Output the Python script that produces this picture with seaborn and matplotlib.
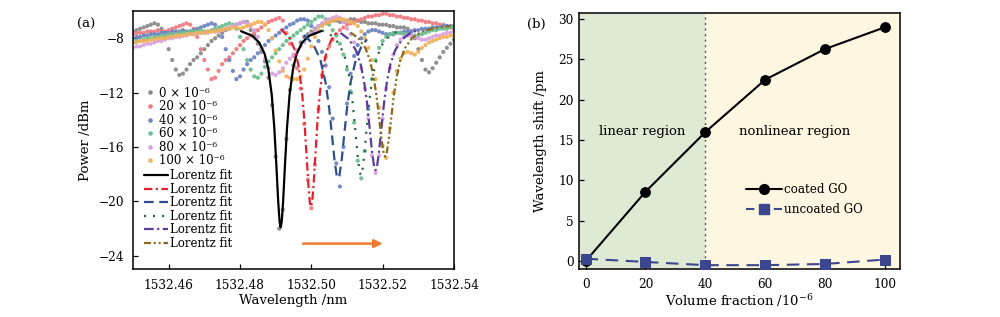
import numpy as np
import pandas as pd
import matplotlib
matplotlib.use("Agg")
import matplotlib.pyplot as plt
import seaborn as sns
from matplotlib.lines import Line2D

# ---------------- data: panel (a) ----------------
wavelength = [
    1532.450, 1532.451, 1532.452, 1532.453, 1532.454, 1532.455, 1532.456, 1532.457, 1532.458, 1532.459,
    1532.460, 1532.461, 1532.462, 1532.463, 1532.464, 1532.465, 1532.466, 1532.467, 1532.468, 1532.469,
    1532.470, 1532.471, 1532.472, 1532.473, 1532.474, 1532.475, 1532.476, 1532.477, 1532.478, 1532.479,
    1532.480, 1532.481, 1532.482, 1532.483, 1532.484, 1532.485, 1532.486, 1532.487, 1532.488, 1532.489,
    1532.490, 1532.491, 1532.492, 1532.493, 1532.494, 1532.495, 1532.496, 1532.497, 1532.498, 1532.499,
    1532.500, 1532.501, 1532.502, 1532.503, 1532.504, 1532.505, 1532.506, 1532.507, 1532.508, 1532.509,
    1532.510, 1532.511, 1532.512, 1532.513, 1532.514, 1532.515, 1532.516, 1532.517, 1532.518, 1532.519,
    1532.520, 1532.521, 1532.522, 1532.523, 1532.524, 1532.525, 1532.526, 1532.527, 1532.528, 1532.529,
    1532.530, 1532.531, 1532.532, 1532.533, 1532.534, 1532.535, 1532.536, 1532.537, 1532.538, 1532.539,
    1532.540]

power_0 = [
    -7.5, -7.4, -7.3, -7.2, -7.1, -7.0, -6.9, -7.0, -7.3, -7.9,
    -8.8, -9.6, -10.3, -10.7, -10.6, -10.3, -9.9, -9.6, -9.4, -9.1,
    -8.8, -8.5, -8.2, -8.0, -7.8, -7.6, -7.4, -7.3, -7.1, -7.0,
    -6.9, -6.8, -6.8, -7.4, -7.8, -8.4, -9.0, -9.7, -10.9, -12.9,
    -16.7, -22.0, -20.6, -15.4, -11.8, -10.0, -8.9, -8.3, -7.9, -7.7,
    -7.5, -7.3, -7.1, -7.0, -6.9, -6.8, -6.7, -6.7, -6.8, -6.8,
    -6.7, -6.6, -6.6, -6.7, -6.8, -6.8, -6.9, -6.9, -6.9, -7.0,
    -7.0, -7.0, -7.1, -7.1, -7.2, -7.2, -7.2, -7.3, -7.5, -8.0,
    -8.8, -9.6, -10.3, -10.5, -10.2, -9.8, -9.4, -9.0, -8.7, -8.4,
    -8.1]
power_20 = [
    -7.7, -7.6, -7.6, -7.6, -7.5, -7.5, -7.5, -7.4, -7.5, -7.5,
    -7.4, -7.3, -7.2, -7.1, -7.0, -6.9, -7.0, -7.3, -7.9, -8.8,
    -9.6, -10.3, -11.0, -10.9, -10.4, -9.9, -9.6, -9.4, -9.1, -8.8,
    -8.5, -8.2, -8.0, -7.8, -7.6, -7.4, -7.2, -7.0, -6.8, -6.7,
    -6.6, -6.5, -6.7, -7.6, -8.4, -9.3, -10.2, -11.7, -14.3, -18.4,
    -20.5, -17.3, -13.2, -10.7, -9.4, -8.6, -8.1, -7.7, -7.4, -7.2,
    -7.0, -6.9, -6.8, -6.7, -6.6, -6.5, -6.4, -6.4, -6.3, -6.3,
    -6.2, -6.2, -6.3, -6.3, -6.4, -6.4, -6.5, -6.5, -6.6, -6.6,
    -6.7, -6.7, -6.8, -6.8, -6.9, -6.9, -7.0, -7.0, -7.1, -7.2,
    -7.3]
power_40 = [
    -8.0, -7.9, -7.9, -7.8, -7.8, -7.7, -7.7, -7.7, -7.6, -7.6,
    -7.6, -7.5, -7.5, -7.5, -7.4, -7.5, -7.5, -7.4, -7.3, -7.2,
    -7.1, -7.0, -6.9, -7.0, -7.3, -7.9, -8.8, -9.6, -10.4, -11.0,
    -10.8, -10.3, -9.9, -9.6, -9.4, -9.1, -8.8, -8.5, -8.2, -8.0,
    -7.8, -7.6, -7.4, -7.2, -7.0, -6.9, -6.7, -6.6, -6.6, -6.7,
    -7.1, -7.6, -8.2, -9.0, -10.0, -11.6, -13.9, -17.2, -18.9, -16.0,
    -12.8, -10.6, -9.3, -8.5, -8.0, -7.7, -7.5, -7.4, -7.4, -7.5,
    -7.6, -7.7, -7.7, -7.7, -7.6, -7.6, -7.5, -7.5, -7.5, -7.4,
    -7.4, -7.3, -7.3, -7.3, -7.2, -7.2, -7.2, -7.1, -7.1, -7.1,
    -7.1]
power_60 = [
    -8.3, -8.2, -8.2, -8.1, -8.0, -8.0, -7.9, -7.9, -7.8, -7.8,
    -7.7, -7.7, -7.7, -7.6, -7.6, -7.6, -7.5, -7.5, -7.5, -7.4,
    -7.5, -7.5, -7.4, -7.3, -7.2, -7.1, -7.0, -6.9, -7.0, -7.3,
    -7.9, -8.8, -9.6, -10.3, -10.8, -10.9, -10.6, -10.1, -9.7, -9.4,
    -9.1, -8.8, -8.5, -8.2, -8.0, -7.8, -7.6, -7.4, -7.2, -7.0,
    -6.8, -6.6, -6.4, -6.4, -6.6, -7.0, -7.4, -7.8, -8.4, -9.2,
    -10.3, -11.9, -14.2, -17.0, -18.3, -16.3, -13.2, -11.0, -9.6, -8.7,
    -8.2, -7.9, -7.7, -7.6, -7.6, -7.6, -7.7, -7.7, -7.8, -7.8,
    -7.8, -7.7, -7.6, -7.5, -7.4, -7.4, -7.3, -7.3, -7.3, -7.2,
    -7.2]
power_80 = [
    -8.7, -8.6, -8.6, -8.5, -8.4, -8.4, -8.3, -8.2, -8.2, -8.1,
    -8.0, -8.0, -7.9, -7.9, -7.8, -7.8, -7.7, -7.7, -7.7, -7.6,
    -7.6, -7.6, -7.5, -7.5, -7.5, -7.4, -7.3, -7.2, -7.1, -7.0,
    -6.9, -6.8, -6.9, -7.1, -7.4, -7.9, -8.7, -9.5, -10.2, -10.6,
    -10.7, -10.5, -10.2, -9.8, -9.5, -9.2, -8.9, -8.6, -8.3, -8.0,
    -7.7, -7.4, -7.1, -6.9, -6.7, -6.6, -6.5, -6.4, -6.5, -6.8,
    -7.3, -7.7, -8.3, -9.1, -10.2, -11.7, -13.9, -16.6, -17.9, -16.6,
    -13.9, -11.7, -10.2, -9.2, -8.5, -8.1, -7.9, -7.8, -7.8, -7.9,
    -8.0, -8.1, -8.1, -8.0, -7.9, -7.8, -7.8, -7.7, -7.6, -7.6,
    -7.5]
power_100 = [
    -8.3, -8.3, -8.2, -8.2, -8.2, -8.1, -8.1, -8.0, -8.0, -8.0,
    -7.9, -7.9, -7.8, -7.8, -7.8, -7.7, -7.7, -7.7, -7.6, -7.6,
    -7.6, -7.5, -7.5, -7.5, -7.4, -7.4, -7.3, -7.3, -7.2, -7.2,
    -7.3, -7.2, -7.1, -7.0, -6.9, -6.8, -6.8, -7.0, -7.4, -8.0,
    -8.9, -9.7, -10.4, -10.8, -10.9, -11.0, -11.0, -10.8, -10.3, -9.5,
    -8.6, -7.9, -7.4, -7.1, -6.9, -6.8, -6.7, -6.6, -6.6, -6.6,
    -6.7, -6.8, -6.9, -7.1, -7.5, -8.0, -8.7, -9.6, -11.0, -13.1,
    -15.9, -16.8, -14.6, -12.0, -10.4, -9.5, -9.1, -9.0, -9.1, -9.2,
    -9.0, -8.7, -8.5, -8.3, -8.2, -8.1, -8.0, -7.9, -7.9, -7.8,
    -7.8]

series_labels = ["0 \u00d7 10\u207b\u2076", "20 \u00d7 10\u207b\u2076", "40 \u00d7 10\u207b\u2076",
                 "60 \u00d7 10\u207b\u2076", "80 \u00d7 10\u207b\u2076", "100 \u00d7 10\u207b\u2076"]

# Lorentz fit curves
fit0_x = [1532.4803, 1532.4834, 1532.4854, 1532.4869, 1532.4879, 1532.4889, 1532.4896, 1532.4902,
          1532.4907, 1532.4911, 1532.4914, 1532.4917, 1532.4921, 1532.4926, 1532.4932, 1532.4939,
          1532.4949, 1532.4959, 1532.4974, 1532.4994, 1532.5030]
fit0_y = [-7.48, -7.81, -8.32, -9.14, -10.2, -12.15, -14.5, -17.35, -19.96, -21.5, -21.9, -21.5,
          -19.96, -17.35, -14.5, -12.15, -10.2, -9.14, -8.32, -7.81, -7.45]
fit1_x = [1532.4914, 1532.4939, 1532.4954, 1532.4964, 1532.4974, 1532.4981, 1532.4987, 1532.4992,
          1532.4996, 1532.4999, 1532.5002, 1532.5006, 1532.5011, 1532.5017, 1532.5024, 1532.5034,
          1532.5044, 1532.5057, 1532.5071]
fit1_y = [-7.32, -7.98, -8.88, -9.99, -11.98, -14.22, -16.75, -18.9, -20.1, -20.4, -20.1, -18.9,
          -16.75, -14.22, -11.98, -9.99, -8.88, -8.07, -7.59]
fit2_x = [1532.4979, 1532.5005, 1532.5025, 1532.5040, 1532.5050, 1532.5058, 1532.5065, 1532.5071,
          1532.5075, 1532.5079, 1532.5085, 1532.5092, 1532.5100, 1532.5110, 1532.5125, 1532.5140,
          1532.5156]
fit2_y = [-7.76, -8.42, -9.55, -11.25, -13.15, -15.15, -16.97, -18.06, -18.3, -18.06, -16.97,
          -15.15, -13.15, -11.25, -9.55, -8.63, -8.08]
fit3_x = [1532.5030, 1532.5059, 1532.5079, 1532.5094, 1532.5106, 1532.5115, 1532.5123, 1532.5129,
          1532.5135, 1532.5139, 1532.5143, 1532.5149, 1532.5155, 1532.5163, 1532.5172, 1532.5184,
          1532.5199, 1532.5219, 1532.5240]
fit3_y = [-7.42, -7.83, -8.45, -9.38, -10.78, -12.5, -14.65, -16.44, -17.8, -18.1, -17.8, -16.44,
          -14.65, -12.5, -10.78, -9.38, -8.45, -7.83, -7.5]
fit4_x = [1532.5082, 1532.5105, 1532.5125, 1532.5138, 1532.5148, 1532.5156, 1532.5164, 1532.5170,
          1532.5176, 1532.5180, 1532.5184, 1532.5190, 1532.5196, 1532.5204, 1532.5212, 1532.5222,
          1532.5235, 1532.5255, 1532.5275, 1532.5296]
fit4_y = [-7.61, -8.06, -8.88, -9.89, -11.19, -12.73, -14.73, -16.31, -17.45, -17.7, -17.45,
          -16.31, -14.73, -12.73, -11.19, -9.89, -8.88, -8.06, -7.65, -7.42]
fit5_x = [1532.5110, 1532.5132, 1532.5152, 1532.5165, 1532.5175, 1532.5183, 1532.5191, 1532.5197,
          1532.5203, 1532.5207, 1532.5211, 1532.5217, 1532.5223, 1532.5231, 1532.5239, 1532.5249,
          1532.5262, 1532.5282, 1532.5307, 1532.5347, 1532.5390]
fit5_y = [-7.58, -7.99, -8.74, -9.69, -10.89, -12.28, -14.08, -15.48, -16.48, -16.7, -16.48,
          -15.48, -14.08, -12.28, -10.89, -9.69, -8.74, -7.99, -7.54, -7.24, -7.1]

wl_ticks = [1532.46, 1532.48, 1532.50, 1532.52, 1532.54]
power_ticks = [-8, -12, -16, -20, -24]
arrow_wl = [1532.4977, 1532.5200]
arrow_power = -23.1

# ---------------- data: panel (b) ----------------
volume = [0, 20, 40, 60, 80, 100]
coated = [0.0, 8.6, 16.0, 22.5, 26.3, 29.0]
uncoated = [0.3, -0.1, -0.5, -0.5, -0.35, 0.2]
vol_ticks = [0, 20, 40, 60, 80, 100]
shift_ticks = [0, 5, 10, 15, 20, 25, 30]

# ---------------- style ----------------
sns.set_theme(style="ticks")
plt.rcParams.update({
    "font.family": ["DejaVu Serif"],
    "mathtext.fontset": "dejavuserif",
    "lines.scale_dashes": False,
    "axes.linewidth": 1.1,
    "axes.edgecolor": "black",
    "xtick.direction": "in",
    "ytick.direction": "in",
    "xtick.major.size": 3.5,
    "ytick.major.size": 3.5,
    "xtick.major.width": 0.9,
    "ytick.major.width": 0.9,
    "xtick.color": "black",
    "ytick.color": "black",
    "text.color": "black",
    "axes.labelcolor": "black",
})

dot_colors = ["#8a8a8a", "#f07a80", "#6d84bf", "#6cbf8e", "#d9a2e0", "#f0b25c"]
fit_colors = ["#000000", "#e3202b", "#2d4f8f", "#1f6a3b", "#5b3c9b", "#8a6a1c"]
fit_styles = ["-", (0, (6, 2.5, 1.5, 2.5)), (0, (7, 4)), (0, (1.5, 5)),
              (0, (7, 2.5, 1.5, 2.5)), (0, (5, 2, 1.5, 2, 1.5, 2))]

fig = plt.figure(figsize=(10, 3.17), dpi=100)
ax1 = fig.add_axes([0.133, 0.150, 0.321, 0.815])
ax2 = fig.add_axes([0.579, 0.150, 0.321, 0.810])

# ---------------- panel (a) ----------------
powers = [power_0, power_20, power_40, power_60, power_80, power_100]
spec = pd.concat([pd.DataFrame({"wl": wavelength, "power": p, "series": lab})
                  for p, lab in zip(powers, series_labels)], ignore_index=True)
sns.scatterplot(data=spec, x="wl", y="power", hue="series", hue_order=series_labels,
                palette=dot_colors, s=9, linewidth=0, alpha=0.95, ax=ax1, legend=False, zorder=2)

fits_x = [fit0_x, fit1_x, fit2_x, fit3_x, fit4_x, fit5_x]
fits_y = [fit0_y, fit1_y, fit2_y, fit3_y, fit4_y, fit5_y]
for fx, fy, c, ls in zip(fits_x, fits_y, fit_colors, fit_styles):
    sns.lineplot(x=fx, y=fy, ax=ax1, color=c, linestyle=ls, linewidth=1.6,
                 estimator=None, sort=False, zorder=3)

ax1.annotate("", xy=(arrow_wl[1], arrow_power), xytext=(arrow_wl[0], arrow_power),
             arrowprops=dict(arrowstyle="-|>", color="#f07a32", lw=1.8,
                             mutation_scale=12, shrinkA=0, shrinkB=0))

ax1.set_xlim(1532.45, 1532.54)
ax1.set_ylim(-25.0, -6.0)
ax1.set_xticks(wl_ticks)
ax1.set_xticklabels([f"{t:.2f}" for t in wl_ticks])
ax1.set_yticks(power_ticks)
ax1.set_yticklabels([f"\u2212{abs(t)}" for t in power_ticks])
ax1.tick_params(axis="x", labelsize=8.7, pad=7)
ax1.tick_params(axis="y", labelsize=8.7, pad=6)
ax1.set_xlabel("Wavelength /nm", fontsize=9.5, labelpad=1)
ax1.set_ylabel("Power /dBm", fontsize=9.5, labelpad=5)

dot_handles = [Line2D([], [], marker="o", ls="", color=c, markersize=3.3, markeredgewidth=0)
               for c in dot_colors]
leg1 = ax1.legend(dot_handles, series_labels, loc="upper left", bbox_to_anchor=(0.038, 0.708),
                  frameon=False, fontsize=8.5, handlelength=0.8, handletextpad=0.35,
                  labelspacing=0.05, borderpad=0, borderaxespad=0)
ax1.add_artist(leg1)
fit_handles = [Line2D([], [], color=c, ls=ls, lw=1.6) for c, ls in zip(fit_colors, fit_styles)]
ax1.legend(fit_handles, ["Lorentz fit"] * 6, loc="upper left", bbox_to_anchor=(0.034, 0.387),
           frameon=False, fontsize=8.5, handlelength=2.0, handletextpad=0.2,
           labelspacing=0.04, borderpad=0, borderaxespad=0)

# ---------------- panel (b) ----------------
ax2.set_xlim(-2.2, 105)
ax2.set_ylim(-1.03, 30.8)
x_lo, x_hi = ax2.get_xlim()
ax2.axvspan(x_lo, volume[2], color="#deead3", zorder=0, lw=0)
ax2.axvspan(volume[2], x_hi, color="#fdf6e0", zorder=0, lw=0)
ax2.axvline(volume[2], color="#555555", ls=(0, (1.5, 2.5)), lw=1.0, zorder=1)

sns.lineplot(x=volume, y=coated, ax=ax2, color="black", marker="o", markersize=7,
             markeredgecolor="black", linewidth=1.5, estimator=None, zorder=4)
sns.lineplot(x=volume, y=uncoated, ax=ax2, color="#3b468e", marker="s", markersize=6.5,
             markeredgecolor="#3b468e", linewidth=1.5, linestyle=(0, (9, 5.5)),
             estimator=None, zorder=4)

ax2.text(18.8, 16.1, "linear region", ha="center", va="center", fontsize=9.5)
ax2.text(69.9, 16.1, "nonlinear region", ha="center", va="center", fontsize=9.5)

ax2.set_xticks(vol_ticks)
ax2.set_yticks(shift_ticks)
ax2.tick_params(axis="x", labelsize=8.7, pad=6)
ax2.tick_params(axis="y", labelsize=8.7, pad=4)
ax2.set_xlabel(r"Volume fraction /10$^{-6}$", fontsize=9.5, labelpad=1)
ax2.set_ylabel("Wavelength shift /pm", fontsize=9.5, labelpad=8)

h_coated = Line2D([], [], color="black", marker="o", markersize=7, lw=1.5)
h_uncoated = Line2D([], [], color="#3b468e", marker="s", markersize=6.5, lw=1.5, ls=(0, (6, 4)))
ax2.legend([h_coated, h_uncoated], ["coated GO", "uncoated GO"], loc="upper left",
           bbox_to_anchor=(0.52, 0.335), frameon=False, fontsize=8.6, handlelength=3.0,
           handletextpad=0.15, labelspacing=0.55, borderpad=0, borderaxespad=0)

fig.text(0.077, 0.924, "(a)", fontsize=9.5, va="center", ha="left")
fig.text(0.527, 0.924, "(b)", fontsize=9.5, va="center", ha="left")

fig.savefig("out.png", dpi=100)
